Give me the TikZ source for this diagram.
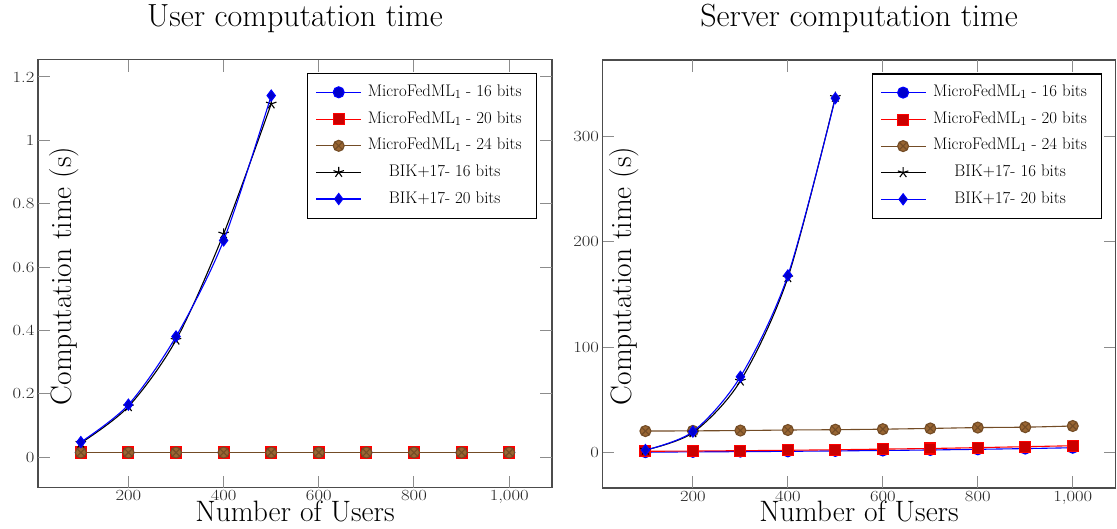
\documentclass[tikz,border=0pt]{standalone}
\usepackage{graphicx}
\usetikzlibrary{plotmarks}
\newcommand\tk[1]{\scalebox{1.2}[1]{#1}}
\newcommand\sbone{\raisebox{-2pt}{\fontsize{12.5}{12.5}\selectfont 1}}
\tikzset{
  axisline/.style={line width=1.1pt, black!70},
  tickline/.style={line width=1pt, black!45},
  ticklab/.style={font=\fontsize{15.5}{17}\selectfont, inner sep=0pt, text=black!85},
  titlelab/.style={font=\fontsize{32}{38}\selectfont, inner sep=0pt},
  axlab/.style={font=\fontsize{29.5}{34}\selectfont, inner sep=0pt},
  legtext/.style={font=\fontsize{16.8}{19}\selectfont, inner sep=0pt, anchor=base},
  legbox/.style={line width=1.1pt, black, fill=white},
  s1/.style={blue, line width=1.1pt, mark=*, mark size=5.5pt, mark options={fill=blue!80!black}},
  s2/.style={red, line width=1.1pt, mark=square*, mark size=5.5pt, mark options={fill=red!80!black}},
  s3/.style={brown!60!black, line width=1.1pt, mark=otimes*, mark size=5.5pt, mark options={fill=brown!80!black}},
  s4/.style={black, line width=1.1pt, mark=star, mark size=5.5pt},
  s5/.style={blue, line width=1.1pt, mark=diamond*, mark size=5.5pt, mark options={fill=blue!80!black}},
}
\begin{document}
\begin{tikzpicture}[x=1pt,y=-1pt]
\useasboundingbox (0,0) rectangle (1117,529);

% ---------------- Left plot ----------------
\node[titlelab, anchor=base] (titleL) at (295,26.8) {User computation time};
\node[axlab, anchor=base] (xlabL) at (295,521) {Number of Users};
\node[axlab, anchor=base, rotate=90] (ylabL) at (71.7,276) {Computation time (s)};

\begin{scope}[shift={(33.24pt,-457.3pt)}, x=0.47593pt, y=317pt]
  \draw[axisline] (10,-0.0965) rectangle (1090,1.2535);
  \foreach \v/\l [count=\i] in {200/200,400/400,600/600,800/800,1000/{1,000}} {
    \draw[tickline] (\v,-0.0965) -- ++(0pt,11.7pt);
    \draw[tickline] (\v,1.2535) -- ++(0pt,-11.7pt);
    \node[ticklab, anchor=base] (xtL\i) at ([yshift=-13pt]\v,-0.0965) {\tk{\l}};
  }
  \foreach \v/\l [count=\i] in {0/0,0.2/0.2,0.4/0.4,0.6/0.6,0.8/0.8,1/1,1.2/1.2} {
    \draw[tickline] (10,\v) -- ++(11.7pt,0pt);
    \draw[tickline] (1090,\v) -- ++(-11.7pt,0pt);
    \node[ticklab, anchor=east] (ytL\i) at ([xshift=-3.5pt]10,\v) {\tk{\l}};
  }
  \draw[s1, smooth] plot coordinates {(100,0.015)(200,0.015)(300,0.015)(400,0.015)(500,0.015)(600,0.015)(700,0.015)(800,0.015)(900,0.015)(1000,0.015)};
  \draw[s2, smooth] plot coordinates {(100,0.015)(200,0.015)(300,0.015)(400,0.015)(500,0.015)(600,0.015)(700,0.015)(800,0.015)(900,0.015)(1000,0.015)};
  \draw[s3, smooth] plot coordinates {(100,0.015)(200,0.015)(300,0.015)(400,0.015)(500,0.015)(600,0.015)(700,0.015)(800,0.015)(900,0.015)(1000,0.015)};
  \draw[s4, smooth] plot coordinates {(100,0.045)(200,0.16)(300,0.37)(400,0.705)(500,1.115)};
  \draw[s5, smooth] plot coordinates {(100,0.048)(200,0.166)(300,0.381)(400,0.684)(500,1.141)};
\end{scope}

% legend left
\draw[legbox] (307.3,73.3) rectangle (536.7,218.7);
\draw[s1] (316,92.3) -- (361,92.3);  \draw[s1] plot coordinates {(338.7,92.3)};
\draw[s2] (316,119.3) -- (361,119.3); \draw[s2] plot coordinates {(338.7,119.3)};
\draw[s3] (316,145.8) -- (361,145.8); \draw[s3] plot coordinates {(338.7,145.8)};
\draw[s4] (316,172.3) -- (361,172.3); \draw[s4] plot coordinates {(338.7,172.3)};
\draw[s5] (316,199) -- (361,199);     \draw[s5] plot coordinates {(338.7,199)};
\node[legtext] (lL1) at (444.7,96.1) {MicroFedML\sbone\ - 16 bits};
\node[legtext] (lL2) at (444.7,123.1) {MicroFedML\sbone\ - 20 bits};
\node[legtext] (lL3) at (444.7,149.6) {MicroFedML\sbone\ - 24 bits};
\node[legtext] (lL4) at (444.7,176.5) {BIK+17- 16 bits};
\node[legtext] (lL5) at (444.7,203.2) {BIK+17- 20 bits};

% ---------------- Right plot ----------------
\node[titlelab, anchor=base] (titleR) at (859.1,26.8) {Server computation time};
\node[axlab, anchor=base] (xlabR) at (859.1,521) {Number of Users};
\node[axlab, anchor=base, rotate=90] (ylabR) at (631.7,276) {Computation time (s)};

\begin{scope}[shift={(597.95pt,-452.7pt)}, x=0.4748pt, y=1.055pt]
  \draw[axisline] (10,-33.46) rectangle (1090,372.2);
  \foreach \v/\l [count=\i] in {200/200,400/400,600/600,800/800,1000/{1,000}} {
    \draw[tickline] (\v,-33.46) -- ++(0pt,11.7pt);
    \draw[tickline] (\v,372.2) -- ++(0pt,-11.7pt);
    \node[ticklab, anchor=base] (xtR\i) at ([yshift=-13pt]\v,-33.46) {\tk{\l}};
  }
  \foreach \v [count=\i] in {0,100,200,300} {
    \draw[tickline] (10,\v) -- ++(11.7pt,0pt);
    \draw[tickline] (1090,\v) -- ++(-11.7pt,0pt);
    \node[ticklab, anchor=east] (ytR\i) at ([xshift=-3.5pt]10,\v) {\tk{\v}};
  }
  \draw[s1, smooth] plot coordinates {(100,0.5)(200,0.8)(300,1.0)(400,1.3)(500,1.7)(600,2.1)(700,2.6)(800,3.2)(900,3.9)(1000,4.7)};
  \draw[s2, smooth] plot coordinates {(100,1.3)(200,1.6)(300,1.9)(400,2.3)(500,2.8)(600,3.4)(700,4.0)(800,4.8)(900,5.7)(1000,6.6)};
  \draw[s3, smooth] plot coordinates {(100,20.5)(200,20.7)(300,21)(400,21.5)(500,21.8)(600,22.3)(700,23)(800,23.8)(900,24.2)(1000,25.3)};
  \draw[s4, smooth] plot coordinates {(100,2.5)(200,19)(300,68)(400,166)(500,337)};
  \draw[s5, smooth] plot coordinates {(100,2.5)(200,20)(300,72)(400,168)(500,336)};
\end{scope}

% legend right
\draw[legbox] (872.7,74) rectangle (1101.7,218.7);
\draw[s1] (881.4,92.6) -- (926.4,92.6);  \draw[s1] plot coordinates {(903.1,92.6)};
\draw[s2] (881.4,119.6) -- (926.4,119.6); \draw[s2] plot coordinates {(903.1,119.6)};
\draw[s3] (881.4,146.1) -- (926.4,146.1); \draw[s3] plot coordinates {(903.1,146.1)};
\draw[s4] (881.4,172.6) -- (926.4,172.6); \draw[s4] plot coordinates {(903.1,172.6)};
\draw[s5] (881.4,199.3) -- (926.4,199.3); \draw[s5] plot coordinates {(903.1,199.3)};
\node[legtext] (lR1) at (1010.1,96.4) {MicroFedML\sbone\ - 16 bits};
\node[legtext] (lR2) at (1010.1,123.4) {MicroFedML\sbone\ - 20 bits};
\node[legtext] (lR3) at (1010.1,149.9) {MicroFedML\sbone\ - 24 bits};
\node[legtext] (lR4) at (1010.1,176.8) {BIK+17- 16 bits};
\node[legtext] (lR5) at (1010.1,203.5) {BIK+17- 20 bits};
\end{tikzpicture}
\end{document}
